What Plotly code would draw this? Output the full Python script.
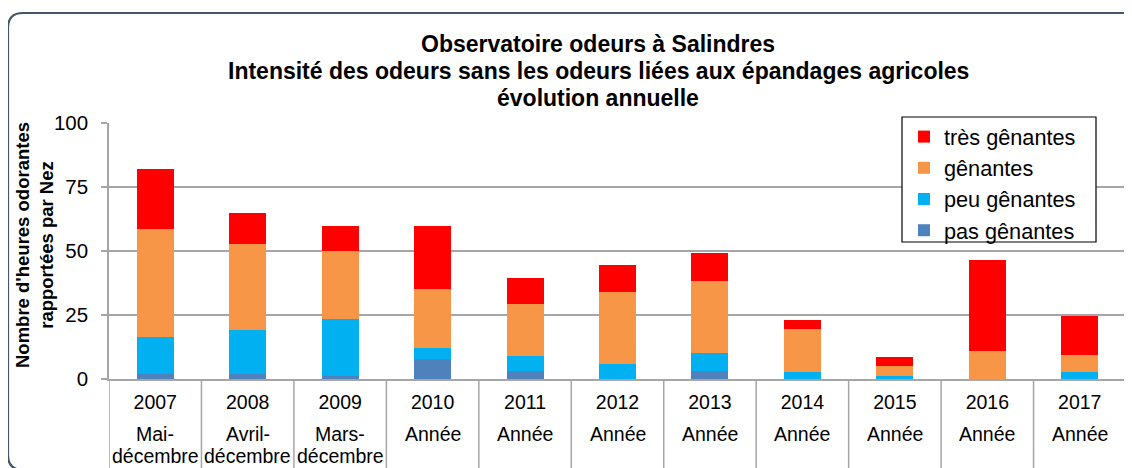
import plotly.graph_objects as go

years = ["2007", "2008", "2009", "2010", "2011", "2012", "2013", "2014", "2015", "2016", "2017"]
periods_line1 = ["Mai-", "Avril-", "Mars-", "Année", "Année",
                 "Année", "Année", "Année", "Année", "Année", "Année"]
periods_line2 = ["décembre", "décembre", "décembre", "", "", "", "", "", "", "", ""]
pas_genantes = [2, 2, 1, 8, 3, 0, 3, 0, 0, 0, 0]
peu_genantes = [14.5, 17, 22.5, 4, 6, 5.7, 7.3, 2.9, 1.3, 0, 2.7]
genantes = [42, 33.8, 26.4, 23, 20.2, 28.1, 28.1, 16.6, 3.8, 10.9, 6.5]
tres_genantes = [23.5, 12.2, 9.7, 24.6, 10.4, 10.9, 10.9, 3.5, 3.5, 35.5, 15.5]
y_ticks = [0, 25, 50, 75, 100]

series = [
    ("pas gênantes", pas_genantes, "#4F81BD"),
    ("peu gênantes", peu_genantes, "#00B0F0"),
    ("gênantes", genantes, "#F79646"),
    ("très gênantes", tres_genantes, "#FF0000"),
]

# the page body adds an 8px offset, so the figure is drawn 8px smaller
OFF = 8
W, H = 1132 - OFF, 468 - OFF
L, T = 109 - OFF, 123 - OFF
R = W - (1126 - OFF)
B = H - (379 - OFF)
pw, ph = W - L - R, H - T - B


def px(x):
    return (x - OFF - L) / pw


def py(y):
    return (H - B - (y - OFF)) / ph


FONT = "Liberation Sans, Arial, sans-serif"
GRID = "#a6a6a6"

fig = go.Figure()
for name, vals, col in series:
    fig.add_trace(go.Bar(x=years, y=vals, name=name, marker=dict(color=col, line=dict(width=0))))

fig.update_layout(
    width=W, height=H,
    margin=dict(l=L, r=R, t=T, b=B, pad=0),
    barmode="stack", bargap=0.6,
    plot_bgcolor="white", paper_bgcolor="white",
    font=dict(family=FONT, color="#000000"),
    showlegend=True,
    legend=dict(
        x=px(904), y=py(116), xanchor="left", yanchor="top",
        traceorder="reversed",
        borderwidth=0, bgcolor="rgba(0,0,0,0)",
        font=dict(size=21.7, family=FONT, color="#000000"),
    ),
)
fig.update_xaxes(
    type="category", range=[-0.5, len(years) - 0.5],
    showgrid=False, ticks="", showline=True, linecolor=GRID, linewidth=1.5,
    tickfont=dict(size=19.5, family=FONT, color="#000000"), ticklabelstandoff=5,
)
fig.update_yaxes(
    range=[0, 100], tickvals=y_ticks, showgrid=True, gridcolor=GRID, gridwidth=1.5,
    showline=True, linecolor=GRID, linewidth=1.5, ticks="outside", ticklen=6, tickcolor=GRID,
    tickwidth=1.5, tickfont=dict(size=20.5, family=FONT, color="#000000"), ticklabelstandoff=9,
    zeroline=False,
)

# legend frame
fig.add_shape(type="rect", xref="paper", yref="paper", x0=px(902), x1=px(1096),
              y0=py(242), y1=py(117), line=dict(color="#000000", width=1.2),
              fillcolor="white", layer="above")

# category separators below the axis
for i in range(len(years) + 1):
    fig.add_shape(type="line", xref="x", yref="paper", x0=i - 0.5, x1=i - 0.5, y0=0, y1=-0.5,
                  line=dict(color=GRID, width=1.5))

# second level of category labels
for i in range(len(years)):
    for txt, yc in ((periods_line1[i], 434), (periods_line2[i], 456)):
        if txt:
            fig.add_annotation(x=i, xref="x", yref="paper", y=py(yc), yanchor="middle",
                               text=txt, showarrow=False,
                               font=dict(size=19.5, family=FONT, color="#000000"))

# title
titles = ["Observatoire odeurs à Salindres",
          "Intensité des odeurs sans les odeurs liées aux épandages agricoles",
          "évolution annuelle"]
for t, yc in zip(titles, [44, 71, 98]):
    fig.add_annotation(x=px(598), xref="paper", y=py(yc), yref="paper", yanchor="middle",
                       text="<b>" + t + "</b>", showarrow=False,
                       font=dict(size=23, family=FONT, color="#000000"))

# y axis title
fig.add_annotation(x=px(34), xref="paper", y=py(245), yref="paper", xanchor="center",
                   yanchor="middle", textangle=-90,
                   text="<b>Nombre d'heures odorantes<br>rapportées par Nez</b>",
                   showarrow=False, font=dict(size=18.5, family=FONT, color="#000000"))

# rounded chart-area frame
xl, xr, yt, yb = px(8), px(1140), py(13), py(470)
rx, ry = 15 / pw, 15 / ph
path = (f"M {xl},{yb + ry} L {xl},{yt - ry} Q {xl},{yt} {xl + rx},{yt} "
        f"L {xr - rx},{yt} Q {xr},{yt} {xr},{yt - ry} L {xr},{yb + ry} "
        f"Q {xr},{yb} {xr - rx},{yb} L {xl + rx},{yb} Q {xl},{yb} {xl},{yb + ry} Z")
fig.add_shape(type="path", xref="paper", yref="paper", path=path,
              line=dict(color="#44546A", width=2.2), fillcolor="rgba(0,0,0,0)", layer="above")

fig.write_html("out.html")
